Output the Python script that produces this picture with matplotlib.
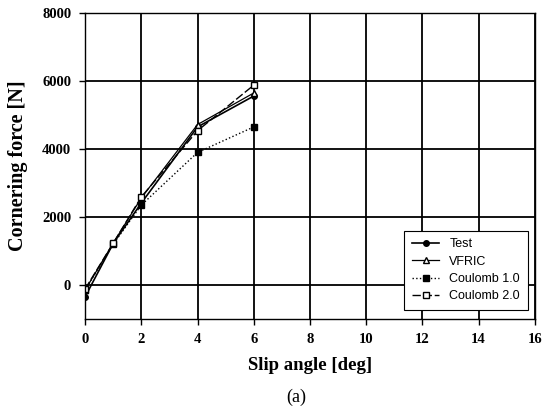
import matplotlib
matplotlib.use("Agg")
import matplotlib.pyplot as plt

# slip angle [deg]
slip = [0, 1, 2, 4, 6]

test = [-350, 1220, 2410, 4650, 5560]
vfric = [-150, 1230, 2560, 4720, 5650]
coulomb1 = [-150, 1200, 2350, 3900, 4650]
coulomb2 = [-120, 1230, 2590, 4540, 5880]

xticks = [0, 2, 4, 6, 8, 10, 12, 14, 16]
yticks = [0, 2000, 4000, 6000, 8000]

serif = "Liberation Serif"
sans = "Liberation Sans"

fig = plt.figure(figsize=(5.49, 4.12), dpi=100)
ax = fig.add_axes([0.155, 0.226, 0.819, 0.742])

ax.plot(slip, test, "-", color="black", lw=1.2, marker="o", ms=4,
        mfc="black", mec="black", label="Test")
ax.plot(slip, vfric, "-", color="black", lw=0.9, marker="^", ms=4,
        mfc="white", mec="black", label="VFRIC")
ax.plot(slip, coulomb1, ":", color="black", lw=1.0, marker="s", ms=4,
        mfc="black", mec="black", label="Coulomb 1.0")
ax.plot(slip, coulomb2, color="black", lw=1.0, dashes=(6, 2), marker="s", ms=4,
        mfc="white", mec="black", label="Coulomb 2.0")

ax.set_xlim(0, 16)
ax.set_ylim(-1000, 8000)
ax.set_xticks(xticks)
ax.set_yticks(yticks)
ax.grid(True, color="black", lw=1.3)
for s in ax.spines.values():
    s.set_color("black")
    s.set_linewidth(1.0)
ax.tick_params(direction="out", length=4, width=1.0, colors="black", pad=6)
for lab in ax.get_xticklabels() + ax.get_yticklabels():
    lab.set_fontfamily(serif)
    lab.set_fontweight("bold")
    lab.set_fontsize(10.5)

ax.set_xlabel("Slip angle [deg]", fontfamily=serif, fontweight="bold",
              fontsize=13.5, labelpad=8)
ax.set_ylabel("Cornering force [N]", fontfamily=serif, fontweight="bold",
              fontsize=14.5, labelpad=10)

leg = ax.legend(loc="lower right", bbox_to_anchor=(0.984, 0.03),
                borderaxespad=0,
                prop={"family": sans, "size": 9}, frameon=True,
                fancybox=False, edgecolor="black", framealpha=1,
                handlelength=2.2, borderpad=0.6, labelspacing=0.42)
leg.get_frame().set_linewidth(0.8)

fig.text(0.54, 0.025, "(a)", fontfamily=serif, fontsize=13, ha="center")

fig.savefig("out.png", dpi=100)
